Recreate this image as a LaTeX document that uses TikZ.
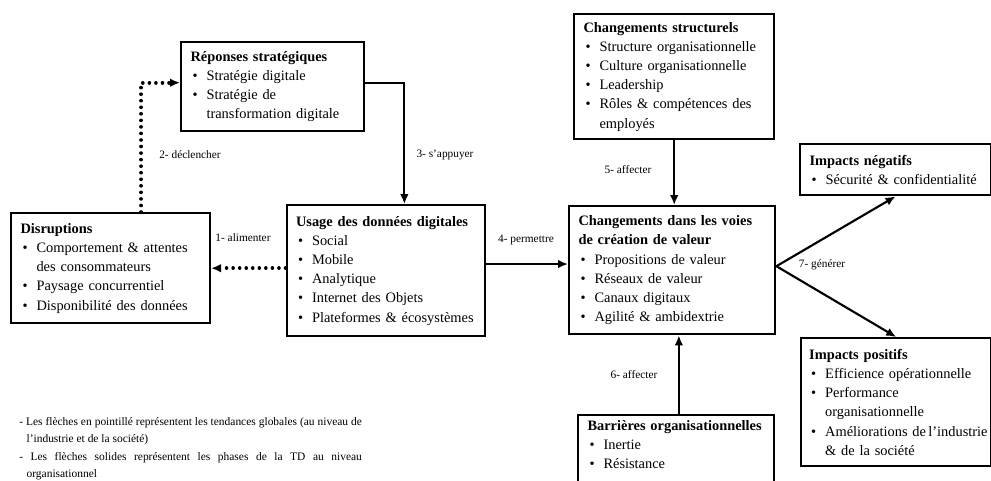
\documentclass[tikz,border=0pt]{standalone}
\usepackage{fontspec}
\setmainfont{Liberation Serif}
\usetikzlibrary{arrows.meta,positioning,calc}
\newcommand\bul[1]{\par\noindent
  \makebox[12pt][l]{\hspace{1.5pt}\textbullet}#1}
\newcommand\cnt{\newline\hspace*{12pt}}
\tikzset{
  cbox/.style={rectangle,draw=black,line width=1.8pt,fill=white,
               anchor=north west,align=left,inner xsep=7pt,inner ysep=4pt,
               font=\fontsize{10.8}{14.4}\selectfont},
  lbl/.style={font=\fontsize{8.5}{10}\selectfont,inner sep=1pt},
  solarr/.style={-{Latex[length=7.5pt,width=6.5pt]},line width=1.6pt},
  dotarr/.style={-{Latex[length=7.5pt,width=6.5pt]},line width=2.7pt,
                 dash pattern=on 0.01pt off 4.9pt,line cap=round},
}

\begin{document}
\begin{tikzpicture}[x=0.75pt,y=-0.75pt]

  \useasboundingbox (0,0) rectangle (991,480);
  \clip (0,0) rectangle (991,480);

  \node[cbox,text width=123pt,minimum height=66.75pt] (REP) at (180,41)
    {\textbf{Réponses stratégiques}
     \bul{Stratégie digitale}
     \bul{Stratégie de\cnt transformation digitale}};

  \node[cbox,text width=135pt,minimum height=82.5pt] (DIS) at (10,212)
    {\textbf{Disruptions}
     \bul{Comportement \& attentes\cnt des consommateurs}
     \bul{Paysage concurrentiel}
     \bul{Disponibilité des données}};

  \node[cbox,text width=134.5pt,minimum height=98.25pt] (USA) at (285.5,204)
    {\textbf{Usage des données digitales}
     \bul{Social}
     \bul{Mobile}
     \bul{Analytique}
     \bul{Internet des Objets}
     \bul{Plateformes \& écosystèmes}};

  \node[cbox,text width=136pt,minimum height=93.75pt] (STR) at (573,13)
    {\textbf{Changements structurels}
     \bul{Structure organisationnelle}
     \bul{Culture organisationnelle}
     \bul{Leadership}
     \bul{Rôles \& compétences des\cnt employés}};

  \node[cbox,text width=140.5pt,minimum height=96pt] (VAL) at (568,205)
    {\textbf{Changements dans les voies\newline de création de valeur}
     \bul{Propositions de valeur}
     \bul{Réseaux de valeur}
     \bul{Canaux digitaux}
     \bul{Agilité \& ambidextrie}};

  \node[cbox,text width=129pt,minimum height=38.25pt] (NEG) at (799,143)
    {\textbf{Impacts négatifs}
     \bul{Sécurité \& confidentialité}};

  \node[cbox,inner xsep=6pt,text width=130.5pt,minimum height=96pt] (POS) at (800,337)
    {\textbf{Impacts positifs}
     \bul{Efficience opérationnelle}
     \bul{Performance\cnt organisationnelle}
     \bul{\mbox{Améliorations de\hspace{0.17em}l’industrie}\cnt\& de la société}};

  \node[cbox,text width=133pt,text depth=60pt] (BAR) at (577,414)
    {\textbf{Barrières organisationnelles}
     \bul{Inertie}
     \bul{Résistance}};

  \draw[dotarr] (USA.west |- DIS.east) -- (DIS.east);
  \draw[dotarr] ([xshift=23pt]DIS.north) |- ([yshift=3pt]REP.west);
  \draw[solarr] ([yshift=3pt]REP.east) -| ([xshift=14pt]USA.north);
  \draw[solarr] ([yshift=5pt]USA.east) -- ([yshift=5pt]USA.east -| VAL.west);
  \draw[solarr] (STR.south) -- (STR.south |- VAL.north);
  \draw[solarr] ([xshift=2pt]BAR.north) -- ([xshift=2pt]BAR.north |- VAL.south);
  \draw[solarr] ([yshift=3pt]VAL.east) -- (NEG.south);
  \draw[solarr] ([yshift=3pt]VAL.east) -- (POS.north);

  \node[lbl] (ALI) at (243,238) {1- alimenter};
  \node[lbl] (DEC) at (190,155) {2- déclencher};
  \node[lbl] (APP) at (445,155) {3- s’appuyer};
  \node[lbl] (PER) at (526,240) {4- permettre};
  \node[lbl] (AFF) at (628,170) {5- affecter};
  \node[lbl] (AFB) at (634,375) {6- affecter};
  \node[lbl] (GEN) at (822,265) {7- générer};

  \node[anchor=north west,text width=257pt,align=justify,inner sep=0pt,
        font=\fontsize{8.6}{13}\selectfont] (LEG) at (19,417)
    {\noindent\hangindent=5.5pt\hangafter=1 - Les flèches en pointillé
     représentent les tendances globales (au niveau de\linebreak
     l’industrie et de la société)\par
     \noindent\hangindent=5.5pt\hangafter=1 - Les flèches solides
     représentent les phases de la TD au niveau\linebreak
     organisationnel\par};

\end{tikzpicture}
\end{document}
